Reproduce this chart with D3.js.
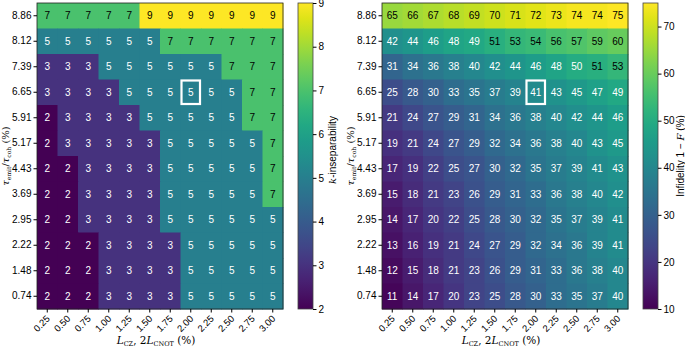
<!DOCTYPE html>
<html><head><meta charset="utf-8">
<script src="https://cdn.jsdelivr.net/npm/d3@7"></script>
<style>
body{margin:0;background:#fff;}
svg{display:block;font-family:"Liberation Sans",sans-serif;}
.math{font-family:"DejaVu Serif","Liberation Serif",serif;}
</style></head><body>
<svg id="c" width="685" height="348"></svg>
<script>
const xLabels = ["0.25","0.50","0.75","1.00","1.25","1.50","1.75","2.00","2.25","2.50","2.75","3.00"];
const yLabels = ["8.86","8.12","7.39","6.65","5.91","5.17","4.43","3.69","2.95","2.22","1.48","0.74"]; // top to bottom
const kInsep = [
 [7,7,7,7,7,9,9,9,9,9,9,9],
 [5,5,5,5,5,5,7,7,7,7,7,7],
 [3,3,3,5,5,5,5,5,5,7,7,7],
 [3,3,3,3,5,5,5,5,5,5,7,7],
 [2,3,3,3,3,5,5,5,5,5,7,7],
 [2,3,3,3,3,3,5,5,5,5,5,7],
 [2,2,3,3,3,3,5,5,5,5,5,7],
 [2,2,3,3,3,3,5,5,5,5,5,7],
 [2,2,3,3,3,3,5,5,5,5,5,5],
 [2,2,2,3,3,3,3,5,5,5,5,5],
 [2,2,2,3,3,3,3,5,5,5,5,5],
 [2,2,2,3,3,3,3,5,5,5,5,5]
];
const infidelity = [
 [65,66,67,68,69,70,71,72,73,74,74,75],
 [42,44,46,48,49,51,53,54,56,57,59,60],
 [31,34,36,38,40,42,44,46,48,50,51,53],
 [25,28,30,33,35,37,39,41,43,45,47,49],
 [21,24,27,29,31,34,36,38,40,42,44,46],
 [19,21,24,27,29,32,34,36,38,40,43,45],
 [17,19,22,25,27,30,32,35,37,39,41,43],
 [15,18,21,23,26,29,31,33,36,38,40,42],
 [14,17,20,22,25,28,30,32,35,37,39,41],
 [13,16,19,21,24,27,29,32,34,36,39,41],
 [12,15,18,21,23,26,29,31,33,36,38,40],
 [11,14,17,20,23,25,28,30,33,35,37,40]
];
const kTicks = [2,3,4,5,6,7,8,9];
const infTicks = [10,20,30,40,50,60,70];
const highlight = {x:"2.00", y:"6.65"};

const svg = d3.select("#c");
const defs = svg.append("defs");

function panel(opt){
  const g = svg.append("g");
  const x = d3.scaleBand().domain(xLabels).range([opt.x0,opt.x1]);
  const y = d3.scaleBand().domain(yLabels).range([opt.y0,opt.y1]);
  const color = d3.scaleSequential(d3.interpolateViridis).domain(opt.domain);
  const cells = [];
  opt.data.forEach((row,i)=>row.forEach((v,j)=>cells.push({r:yLabels[i],c:xLabels[j],v})));
  g.selectAll("rect.cell").data(cells).join("rect")
    .attr("x",d=>x(d.c)).attr("y",d=>y(d.r))
    .attr("width",x.bandwidth()+0.5).attr("height",y.bandwidth()+0.5)
    .attr("fill",d=>color(d.v));
  const norm = d3.scaleLinear().domain(opt.domain).range([0,1]);
  g.selectAll("text.val").data(cells).join("text")
    .attr("x",d=>x(d.c)+x.bandwidth()/2).attr("y",d=>y(d.r)+y.bandwidth()/2)
    .attr("dy","0.36em").attr("text-anchor","middle")
    .attr("font-size",10)
    .attr("fill",d=>norm(d.v)>0.62?"#000":"#fff")
    .text(d=>d.v);
  // highlight
  g.append("rect")
    .attr("x",x(highlight.x)+1).attr("y",y(highlight.y)+1)
    .attr("width",x.bandwidth()-2).attr("height",y.bandwidth()-2)
    .attr("fill","none").attr("stroke","#fff").attr("stroke-width",2.2);
  // frame
  g.append("rect").attr("x",opt.x0).attr("y",opt.y0)
    .attr("width",opt.x1-opt.x0).attr("height",opt.y1-opt.y0)
    .attr("fill","none").attr("stroke","#222").attr("stroke-width",0.8);
  // axes
  const yAx = g.append("g").attr("transform",`translate(${opt.x0},0)`)
    .call(d3.axisLeft(y).tickSize(3.5).tickPadding(2));
  yAx.select(".domain").remove();
  yAx.selectAll("text").attr("font-size",10).attr("fill","#000");
  const xAx = g.append("g").attr("transform",`translate(0,${opt.y1})`)
    .call(d3.axisBottom(x).tickSize(3.5).tickPadding(2));
  xAx.select(".domain").remove();
  xAx.selectAll("text").attr("font-size",9.5).attr("fill","#000")
    .attr("text-anchor","end").attr("y",0).attr("dy","0.35em")
    .attr("transform","translate(1,8) rotate(-45)");
  // x label
  const xl = g.append("text").attr("class","math").attr("x",(opt.x0+opt.x1)/2-4).attr("y",344)
    .attr("text-anchor","middle").attr("font-size",10.5);
  xl.append("tspan").attr("font-style","italic").text("L");
  xl.append("tspan").attr("font-size",6.5).attr("dy",2).text("CZ");
  xl.append("tspan").attr("dy",-2).text(", 2");
  xl.append("tspan").attr("font-style","italic").text("L");
  xl.append("tspan").attr("font-size",6.5).attr("dy",2).text("CNOT");
  xl.append("tspan").attr("dy",-2).text(" (%)");
  // y label
  const yl = g.append("text").attr("class","math")
    .attr("transform",`translate(${opt.yLabX},${(opt.y0+opt.y1)/2}) rotate(-90)`)
    .attr("text-anchor","middle").attr("font-size",10);
  yl.append("tspan").attr("font-style","italic").text("τ");
  yl.append("tspan").attr("font-size",6).attr("dy",1.5).text("emit");
  yl.append("tspan").attr("dy",-1.5).text("/");
  yl.append("tspan").attr("font-style","italic").text("τ");
  yl.append("tspan").attr("font-size",6).attr("dy",1.5).text("coh");
  yl.append("tspan").attr("dy",-1.5).text(" (%)");
  // colorbar
  const gid = "grad"+opt.id;
  const lg = defs.append("linearGradient").attr("id",gid)
    .attr("x1",0).attr("y1",1).attr("x2",0).attr("y2",0);
  d3.range(0,1.0001,0.05).forEach(t=>lg.append("stop").attr("offset",t)
    .attr("stop-color",d3.interpolateViridis(t)));
  const cb = d3.scaleLinear().domain(opt.domain).range([opt.y1,opt.y0]);
  g.append("rect").attr("x",opt.cbX).attr("y",opt.y0).attr("width",opt.cbW)
    .attr("height",opt.y1-opt.y0).attr("fill",`url(#${gid})`)
    .attr("stroke","#444").attr("stroke-width",0.8);
  const cbAx = g.append("g").attr("transform",`translate(${opt.cbX+opt.cbW},0)`)
    .call(d3.axisRight(cb).tickValues(opt.ticks).tickSize(3.5).tickPadding(2).tickFormat(d3.format("d")));
  cbAx.select(".domain").remove();
  cbAx.selectAll("text").attr("font-size",10).attr("fill","#000");
  const cl = g.append("text")
    .attr("transform",`translate(${opt.cbLabX},${opt.cbLabY}) rotate(-90)`)
    .attr("text-anchor","middle").attr("font-size",10);
  opt.cbLabel(cl);
}

panel({id:"k",x0:37,x1:283,y0:3,y1:309,yLabX:9,cbX:298,cbW:15,cbLabX:336,cbLabY:150,
  domain:[2,9],data:kInsep,ticks:kTicks,
  cbLabel:t=>{t.append("tspan").attr("class","math").attr("font-style","italic").text("k");
              t.append("tspan").text("-inseparability");}});
panel({id:"f",x0:382,x1:628,y0:3,y1:309,yLabX:354,cbX:643,cbW:15,cbLabX:684,cbLabY:156,
  domain:[10,75],data:infidelity,ticks:infTicks,
  cbLabel:t=>{t.append("tspan").text("Infidelity 1 − ");
              t.append("tspan").attr("class","math").attr("font-style","italic").text("F");
              t.append("tspan").text(" (%)");}});
</script></body></html>
